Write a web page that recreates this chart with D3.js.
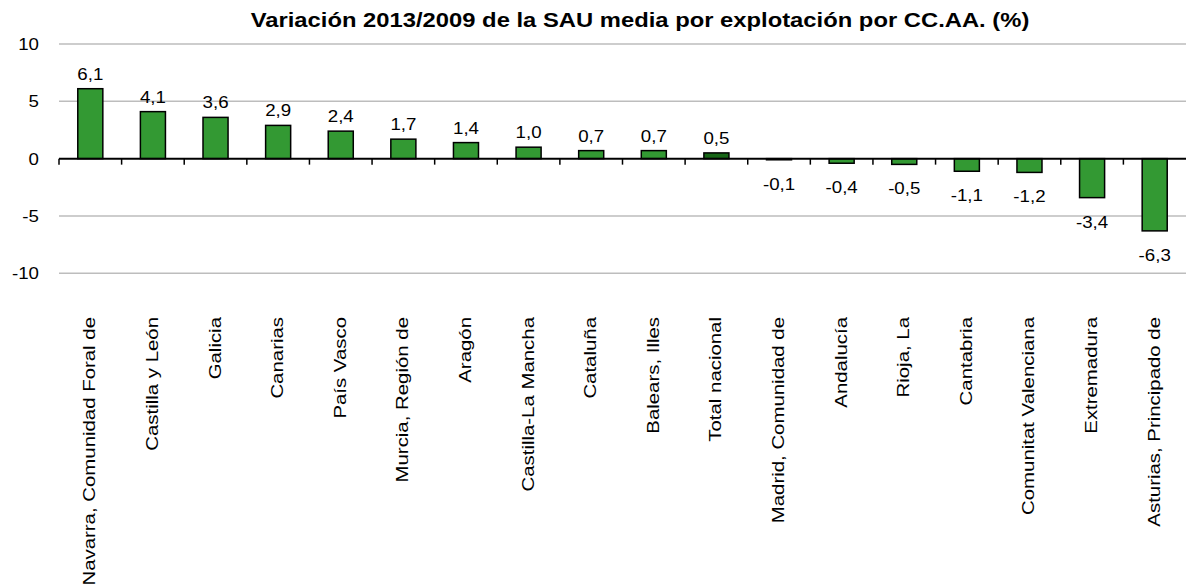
<!DOCTYPE html>
<html>
<head>
<meta charset="utf-8">
<script src="https://cdn.jsdelivr.net/npm/d3@7"></script>
<style>
  body { margin: 0; background: #fff; }
  text { font-family: "Liberation Sans", Arial, sans-serif; fill: #000; }
</style>
</head>
<body>
<div id="chart"></div>
<script>
var categories = ['Navarra, Comunidad Foral de', 'Castilla y León', 'Galicia', 'Canarias',
    'País Vasco', 'Murcia, Región de', 'Aragón', 'Castilla-La Mancha', 'Cataluña',
    'Balears, Illes', 'Total nacional', 'Madrid, Comunidad de', 'Andalucía', 'Rioja, La',
    'Cantabria', 'Comunitat Valenciana', 'Extremadura', 'Asturias, Principado de']
var values = [6.1, 4.1, 3.6, 2.9, 2.4, 1.7, 1.4, 1.0, 0.7, 0.7, 0.5, -0.1, -0.4, -0.5, -1.1, -1.2, -3.4, -6.3]
var yTicks = [-10, -5, 0, 5, 10]
var title = 'Variación 2013/2009 de la SAU media por explotación por CC.AA. (%)'

var width = 1186
var height = 588
var plotLeft = 59
var plotRight = 1186
var plotTop = 44
var plotBottom = 273.3

// text in the picture is a bit wider than normal
var stretch = 1.1

var svg = d3.select('#chart').append('svg')
    .attr('width', width)
    .attr('height', height)

var x = d3.scaleBand()
    .domain(categories)
    .range([plotLeft, plotRight])
    .paddingInner(0.6)
    .paddingOuter(0.3)

var y = d3.scaleLinear()
    .domain([-10, 10])
    .range([plotBottom, plotTop])

var fmt = function(v) { return d3.format('.1f')(v).replace('.', ',').replace('−', '-') }

// gridlines
svg.append('g').selectAll('line')
    .data(yTicks.filter(function(d) { return d !== 0 }))
    .enter().append('line')
    .attr('x1', plotLeft)
    .attr('x2', plotRight)
    .attr('y1', function(d) { return y(d) })
    .attr('y2', function(d) { return y(d) })
    .attr('stroke', '#bdbdbd')
    .attr('stroke-width', 1.5)

// y labels
svg.append('g').selectAll('text')
    .data(yTicks)
    .enter().append('text')
    .attr('transform', function(d) {
        return 'translate(39,' + (y(d) + 6) + ') scale(' + stretch + ',1)' })
    .attr('text-anchor', 'end')
    .style('font-size', '17px')
    .text(function(d) { return d })

// bars
svg.append('g').selectAll('rect')
    .data(values)
    .enter().append('rect')
    .attr('x', function(d, i) { return x(categories[i]) })
    .attr('width', x.bandwidth())
    .attr('y', function(d) { return y(Math.max(0, d)) })
    .attr('height', function(d) { return Math.abs(y(d) - y(0)) })
    .attr('fill', function(d, i) { return categories[i] === 'Total nacional' ? '#176617' : '#339933' })
    .attr('stroke', '#000')
    .attr('stroke-width', 1.5)

// zero axis + ticks
var step = x.step()
var ticksX = d3.range(categories.length).map(function(i) { return plotLeft + i * step })
svg.append('line')
    .attr('x1', plotLeft)
    .attr('x2', plotRight)
    .attr('y1', y(0))
    .attr('y2', y(0))
    .attr('stroke', '#000')
    .attr('stroke-width', 2)
svg.append('g').selectAll('line')
    .data(ticksX)
    .enter().append('line')
    .attr('x1', function(d) { return d })
    .attr('x2', function(d) { return d })
    .attr('y1', y(0))
    .attr('y2', y(0) + 6)
    .attr('stroke', '#000')
    .attr('stroke-width', 1.5)

// value labels
svg.append('g').selectAll('text')
    .data(values)
    .enter().append('text')
    .attr('transform', function(d, i) {
        var cx = x(categories[i]) + x.bandwidth() / 2
        var cy = d >= 0 ? y(d) - 9 : y(d) + 30
        return 'translate(' + cx + ',' + cy + ') scale(' + stretch + ',1)' })
    .attr('text-anchor', 'middle')
    .style('font-size', '17px')
    .text(fmt)

// category labels
svg.append('g').selectAll('text')
    .data(categories)
    .enter().append('text')
    .attr('transform', function(d) {
        return 'translate(' + (x(d) + x.bandwidth() / 2 + 5) + ',317) rotate(-90) scale(1.2,1)' })
    .attr('text-anchor', 'end')
    .style('font-size', '17px')
    .text(function(d) { return d })

// title
svg.append('text')
    .attr('transform', 'translate(640,27) scale(1.22,1)')
    .attr('text-anchor', 'middle')
    .style('font-weight', 'bold')
    .style('font-size', '19.5px')
    .text(title)
</script>
</body>
</html>
